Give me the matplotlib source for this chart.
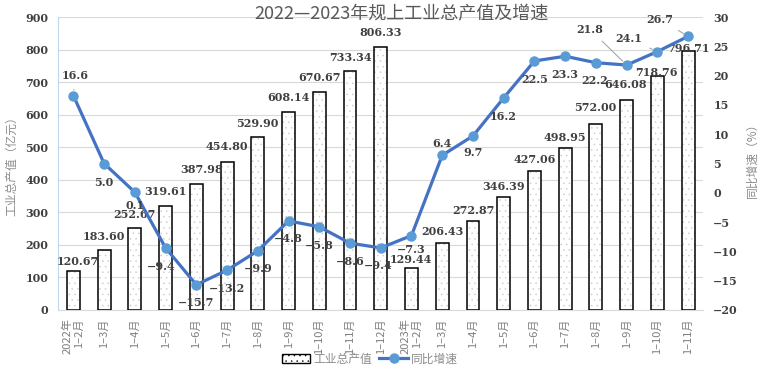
import matplotlib.pyplot as plt
from matplotlib.patches import Patch
from matplotlib.lines import Line2D

plt.rcParams['font.family'] = ['Noto Sans CJK SC', 'DejaVu Sans']
plt.rcParams['hatch.linewidth'] = 0.3

# dados
meses = ['2022年\n1–2月', '1–3月', '1–4月', '1–5月', '1–6月', '1–7月', '1–8月',
         '1–9月', '1–10月', '1–11月', '1–12月',
         '2023年\n1–2月', '1–3月', '1–4月', '1–5月', '1–6月', '1–7月', '1–8月',
         '1–9月', '1–10月', '1–11月']
valor = [120.67, 183.60, 252.67, 319.61, 387.98, 454.80, 529.90, 608.14, 670.67,
         733.34, 806.33, 129.44, 206.43, 272.87, 346.39, 427.06, 498.95, 572.00,
         646.08, 718.76, 796.71]
crescimento = [16.6, 5.0, 0.1, -9.4, -15.7, -13.2, -9.9, -4.8, -5.8, -8.6, -9.4,
               -7.3, 6.4, 9.7, 16.2, 22.5, 23.3, 22.2, 21.8, 24.1, 26.7]

# deslocamento dos rotulos (pixels, para cima positivo)
desl_barra = [(4, 9), (0, 14), (0, 13), (0, 14), (5, 14), (0, 15), (0, 14), (0, 15),
              (0, 14.5), (0, 14), (0, 14.5), (-1, 8), (0, 11), (0, 11), (0, 11),
              (0, 11), (0, 10), (-1, 16), (-1, 15), (-1, 4), (0, 2)]
desl_linha = [(1.5, 20), (0, -18.5), (0, -13), (-4, -19), (0, -18), (0, -18), (0, -18),
              (0, -18), (0, -19), (0, -18), (-3, -18), (0, -13.5), (0, 12), (0, -17),
              (-1, -19), (0, -19), (0, -18), (-1, -18), (-37, 36), (-29, 13), (-28, 17)]
com_guia = [0, 18, 19, 20]

px = 0.72  # pixel -> ponto
fonte_num = dict(family='DejaVu Serif', weight='bold', size=8, color='#404040')

fig = plt.figure(figsize=(7.63, 3.73), dpi=100)
ax = fig.add_axes([58 / 763, 1 - 310 / 373, (703.5 - 58) / 763, (310 - 17) / 373])
ax2 = ax.twinx()

x = list(range(len(meses)))
ax.bar(x, valor, width=0.42, color='white', edgecolor='#C8C8C8', hatch='...', linewidth=0, zorder=2)
ax.bar(x, valor, width=0.42, fill=False, edgecolor='black', linewidth=1.1, zorder=3)

ax.set_ylim(0, 900)
ax.set_yticks(range(0, 901, 100))
ax.set_xlim(-0.5, len(meses) - 0.5)
ax.grid(axis='y', color='#D9D9D9', linewidth=0.8, zorder=0)
ax.set_axisbelow(True)
for s in ['top', 'right']:
    ax.spines[s].set_visible(False)
ax.spines['left'].set_color('#BDD7EE')
ax.spines['bottom'].set_color('#D9D9D9')
ax.tick_params(axis='both', length=0)
ax.tick_params(axis='y', pad=7)
for t in ax.get_yticklabels():
    t.set(**fonte_num)
ax.set_xticks(x)
ax.set_xticklabels(meses, rotation=90, va='top', ha='center', multialignment='right',
                   fontsize=8, color='#7F7F7F')
ax.tick_params(axis='x', pad=6)
ax.set_ylabel('工业总产值（亿元）', fontsize=8.5, color='#8C8C8C')
ax.yaxis.set_label_coords(-40 / 645.5, 0.5)

for i, v in enumerate(valor):
    dx, dy = desl_barra[i]
    ax.annotate(f'{v:.2f}', (i, v), xytext=(dx * px, dy * px), textcoords='offset points',
                ha='center', va='center', zorder=6, **fonte_num)

ax2.plot(x, crescimento, color='#4472C4', linewidth=2.3, marker='o', markersize=6.5,
         markerfacecolor='#5B9BD5', markeredgecolor='#5B9BD5', zorder=5)
ax2.set_ylim(-20, 30)
ax2.set_yticks(range(-20, 31, 5))
ax2.set_yticklabels([str(v).replace('-', '−') for v in range(-20, 31, 5)])
for s in ['top', 'right', 'left', 'bottom']:
    ax2.spines[s].set_visible(False)
ax2.tick_params(axis='y', length=0, pad=7)
for t in ax2.get_yticklabels():
    t.set(**fonte_num)
ax2.set_ylabel('同比增速（%）', fontsize=8.5, color='#8C8C8C', rotation=90)
ax2.yaxis.set_label_coords(1 + 42 / 645.5, 0.52)

for i, v in enumerate(crescimento):
    dx, dy = desl_linha[i]
    seta = None
    if i in com_guia:
        seta = dict(arrowstyle='-', color='#A6A6A6', lw=0.8, shrinkA=4, shrinkB=4)
    ax2.annotate(f'{v:.1f}'.replace('-', '−'), (i, v), xytext=(dx * px, dy * px),
                 textcoords='offset points', ha='center', va='center', zorder=6,
                 arrowprops=seta, **fonte_num)

fig.text(401 / 763, 1 - 14 / 373, '2022—2023年规上工业总产值及增速', ha='center', va='center',
         fontsize=13, color='#595959')

alca = [Patch(facecolor='white', edgecolor='black', hatch='...', linewidth=1, label='工业总产值'),
        Line2D([], [], color='#4472C4', linewidth=2.3, marker='o', markersize=6.5,
               markerfacecolor='#5B9BD5', markeredgecolor='#5B9BD5', label='同比增速')]
leg = fig.legend(handles=alca, loc='center', bbox_to_anchor=(370 / 763, 14 / 373), ncol=2,
                 frameon=False, fontsize=8.5, handlelength=2.4, columnspacing=0.6,
                 handletextpad=0.3)
for t in leg.get_texts():
    t.set_color('#8C8C8C')

fig.savefig('out.png', dpi=100)
